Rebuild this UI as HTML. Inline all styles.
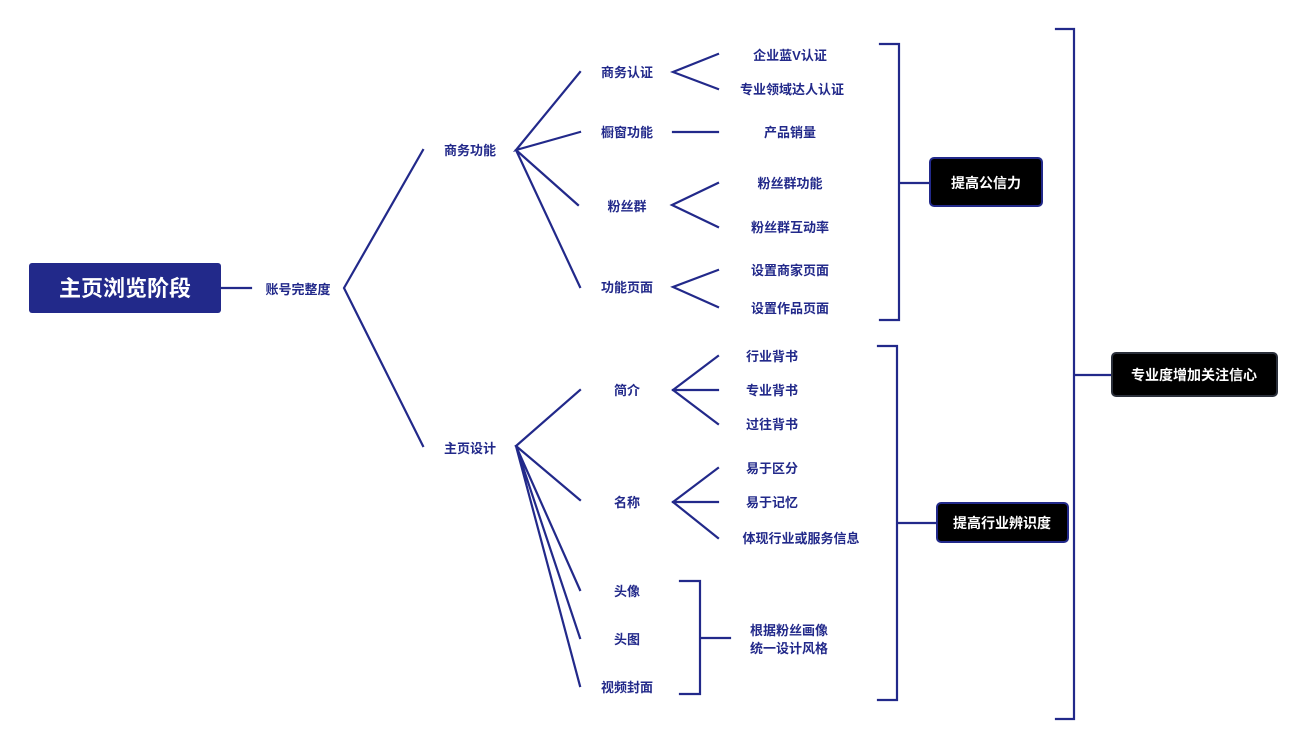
<!DOCTYPE html>
<html><head><meta charset="utf-8"><style>
html,body{margin:0;padding:0;background:#fff;}
svg text{font-family:"Liberation Sans","Noto Sans CJK SC",sans-serif;font-weight:bold;}
</style></head><body>
<svg width="1305" height="749" viewBox="0 0 1305 749" xmlns="http://www.w3.org/2000/svg">
<g stroke="#22298a" stroke-width="2.2" fill="none" stroke-linecap="square">
<path d="M221 288H251"/>
<path d="M423 150L344 288L423 446"/>
<path d="M580 72L516 150L580 132M516 150L578 205M516 150L580 287"/>
<path d="M718 54L673 72L718 89"/>
<path d="M673 132H718"/>
<path d="M718 183L672 205L718 227"/>
<path d="M718 270L673 287L718 307"/>
<path d="M580 390L516 446L580 500M516 446L580 590M516 446L580 638M516 446L580 686"/>
<path d="M718 356L673 390L718 424M673 390H718"/>
<path d="M718 468L673 502L718 538M673 502H718"/>
<path d="M680 581H700V694H680M700 638H730"/>
<path d="M880 44H899V320H880M899 183H930"/>
<path d="M878 346H897V700H878M897 523H937"/>
<path d="M1056 29H1074V719H1056M1074 375H1112"/>
</g>
<rect x="29" y="263" width="192" height="50" rx="3" fill="#22298a"/>
<text x="125" y="296" font-size="22" fill="#fff" text-anchor="middle">主页浏览阶段</text>
<rect x="930" y="158" width="112" height="48" rx="4" fill="#000" stroke="#22298a" stroke-width="2"/>
<text x="986" y="188" font-size="14" fill="#fff" text-anchor="middle">提高公信力</text>
<rect x="937" y="503" width="131" height="39" rx="4" fill="#000" stroke="#22298a" stroke-width="2"/>
<text x="1002" y="528" font-size="14" fill="#fff" text-anchor="middle">提高行业辨识度</text>
<rect x="1112" y="353" width="165" height="43" rx="4" fill="#000" stroke="#2a2f3a" stroke-width="2"/>
<text x="1194" y="380" font-size="14" fill="#fff" text-anchor="middle">专业度增加关注信心</text>
<g font-size="13" fill="#22298a" text-anchor="middle">
<text x="298" y="294">账号完整度</text>
<text x="470" y="155">商务功能</text>
<text x="470" y="453">主页设计</text>
<text x="627" y="77">商务认证</text>
<text x="627" y="137">橱窗功能</text>
<text x="627" y="211">粉丝群</text>
<text x="627" y="292">功能页面</text>
<text x="627" y="395">简介</text>
<text x="627" y="507">名称</text>
<text x="627" y="596">头像</text>
<text x="627" y="644">头图</text>
<text x="627" y="692">视频封面</text>
<text x="790" y="60">企业蓝V认证</text>
<text x="792" y="94">专业领域达人认证</text>
<text x="790" y="137">产品销量</text>
<text x="790" y="188">粉丝群功能</text>
<text x="790" y="232">粉丝群互动率</text>
<text x="790" y="275">设置商家页面</text>
<text x="790" y="313">设置作品页面</text>
<text x="772" y="361">行业背书</text>
<text x="772" y="395">专业背书</text>
<text x="772" y="429">过往背书</text>
<text x="772" y="473">易于区分</text>
<text x="772" y="507">易于记忆</text>
<text x="801" y="543">体现行业或服务信息</text>
<text x="789" y="635">根据粉丝画像</text>
<text x="789" y="653">统一设计风格</text>
</g>
</svg>
</body></html>
